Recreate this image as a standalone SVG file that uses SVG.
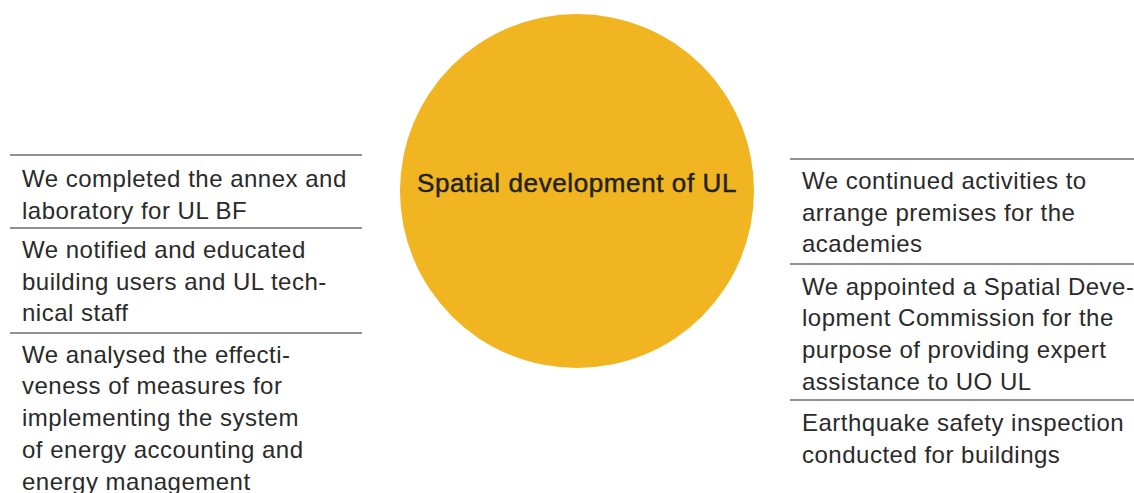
<svg xmlns="http://www.w3.org/2000/svg" width="1134" height="493" viewBox="0 0 1134 493">
  <style>
    .item { font-family: "Liberation Sans", Arial, sans-serif; font-size: 24px; letter-spacing: 0.5px; fill: #2a2a2a; }
    .title { font-family: "Liberation Sans", Arial, sans-serif; font-size: 26px; letter-spacing: 0.6px; fill: #222222; stroke: #222222; stroke-width: 0.45; }
    .rule { stroke: #6e6e6e; stroke-width: 1.5; }
  </style>
  <rect width="1134" height="493" fill="#ffffff"/>

  <!-- central topic -->
  <g id="hub">
    <circle cx="577" cy="191" r="177" fill="#F0B521"/>
    <text class="title" x="577" y="192" text-anchor="middle">Spatial development of UL</text>
  </g>

  <!-- divider rules between list items -->
  <g id="connectors">
    <line class="rule" x1="10" y1="155" x2="362" y2="155"/>
    <line class="rule" x1="10" y1="228" x2="362" y2="228"/>
    <line class="rule" x1="10" y1="333" x2="362" y2="333"/>
    <line class="rule" x1="790" y1="159" x2="1134" y2="159"/>
    <line class="rule" x1="790" y1="264" x2="1134" y2="264"/>
    <line class="rule" x1="790" y1="400" x2="1134" y2="400" stroke="#333333"/>
  </g>

  <!-- left column -->
  <g id="left-1">
    <text class="item" x="22" y="187">We completed the annex and</text>
    <text class="item" x="22" y="219">laboratory for UL BF</text>
  </g>
  <g id="left-2">
    <text class="item" x="22" y="258">We notified and educated</text>
    <text class="item" x="22" y="290">building users and UL tech-</text>
    <text class="item" x="22" y="321">nical staff</text>
  </g>
  <g id="left-3">
    <text class="item" x="22" y="363">We analysed the effecti-</text>
    <text class="item" x="22" y="394">veness of measures for</text>
    <text class="item" x="22" y="426">implementing the system</text>
    <text class="item" x="22" y="458">of energy accounting and</text>
    <text class="item" x="22" y="490">energy management</text>
  </g>

  <!-- right column -->
  <g id="right-1">
    <text class="item" x="802" y="189">We continued activities to</text>
    <text class="item" x="802" y="221">arrange premises for the</text>
    <text class="item" x="802" y="252">academies</text>
  </g>
  <g id="right-2">
    <text class="item" x="802" y="295">We appointed a Spatial Deve-</text>
    <text class="item" x="802" y="326">lopment Commission for the</text>
    <text class="item" x="802" y="358">purpose of providing expert</text>
    <text class="item" x="802" y="390">assistance to UO UL</text>
  </g>
  <g id="right-3">
    <text class="item" x="802" y="431">Earthquake safety inspection</text>
    <text class="item" x="802" y="463">conducted for buildings</text>
  </g>
</svg>
